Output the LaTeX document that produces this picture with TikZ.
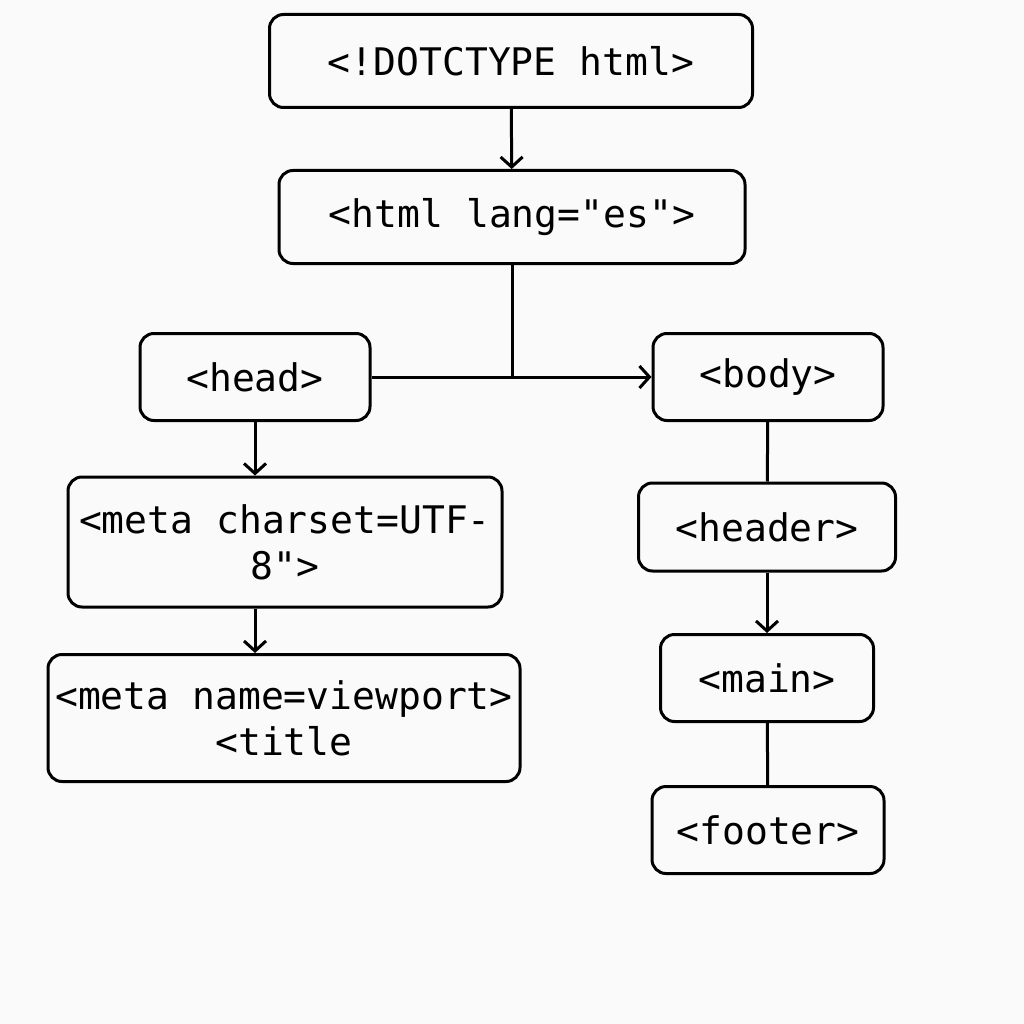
\documentclass[tikz,border=0pt]{standalone}
\usepackage{fontspec}
\setmonofont{DejaVu Sans Mono}
\usetikzlibrary{arrows.meta}
\begin{document}
\begin{tikzpicture}[
    x=1pt, y=-1pt,
    line width=3pt,
    TagBox/.style={draw, rounded corners=14pt, inner sep=0pt, align=center,
      font=\ttfamily\fontsize{38}{46}\selectfont},
    >={Straight Barb[length=10pt, width=22pt, line width=3pt]},
  ]
  \useasboundingbox[fill=white!98!black] (0,0) rectangle (1024,1024);
  \node [TagBox, minimum width=483pt, minimum height=93pt] (doctype) at (511,61) {<!DOTCTYPE html>};
  \node [TagBox, minimum width=466pt, minimum height=93pt] (html) at (512,217) {<html lang="es">};
  \node [TagBox, minimum width=230pt, minimum height=87pt] (head) at (255,377) {<head>};
  \node [TagBox, minimum width=230pt, minimum height=87pt] (body) at (768,377) {<body>};
  \node [TagBox, minimum width=434pt, minimum height=130pt] (charset) at (285,542) {<meta charset=UTF-\\8">};
  \node [TagBox, minimum width=472pt, minimum height=127pt] (viewport) at (284,718) {<meta name=viewport>\\<title};
  \node [TagBox, minimum width=257pt, minimum height=88pt] (header) at (767,527) {<header>};
  \node [TagBox, minimum width=213pt, minimum height=87pt] (main) at (767,678) {<main>};
  \node [TagBox, minimum width=232pt, minimum height=87pt] (footer) at (768,830) {<footer>};
  \coordinate (split) at (html.south |- head.east);

  \draw[->] (doctype) -- (html);
  \draw (html) -- (split);
  \draw[->] (head.east) -- (body.west);
  \draw[->] (head.south) -- (head.south |- charset.north);
  \draw[->] (head.south |- charset.south) -- (head.south |- viewport.north);
  \draw (body) -- (header);
  \draw[->] (header) -- (main);
  \draw (main) -- (footer);
\end{tikzpicture}
\end{document}
